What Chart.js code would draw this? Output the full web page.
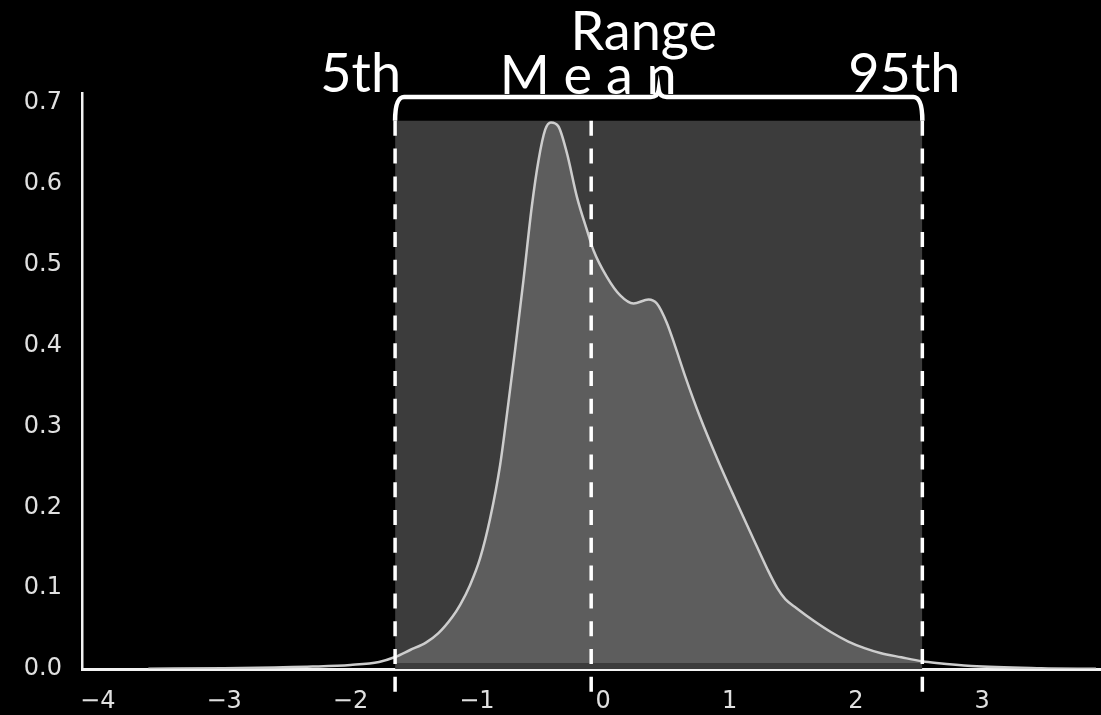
<!DOCTYPE html>
<html>
<head>
<meta charset="utf-8">
<script src="https://cdn.jsdelivr.net/npm/chart.js@4.4.0/dist/chart.umd.min.js"></script>
<style>
  html, body { margin: 0; padding: 0; background: #000; }
  #wrap { width: 1101px; height: 715px; position: relative; }
</style>
</head>
<body>
<div id="wrap"><canvas id="mycanvas"></canvas></div>
<script>
// density curve
var kdeX = [-3.6, -3.0, -2.6, -2.3, -2.0, -1.774, -1.647, -1.528, -1.40, -1.306, -1.196, -1.132,
            -1.053, -0.974, -0.895, -0.816, -0.752, -0.697, -0.631, -0.565, -0.512, -0.459,
            -0.414, -0.354, -0.287, -0.208, -0.129, -0.077, 0.029, 0.135, 0.240, 0.359, 0.425,
            0.504, 0.570, 0.649, 0.768, 0.911, 1.045, 1.180, 1.298, 1.378, 1.441, 1.528, 1.663,
            1.805, 1.940, 2.074, 2.193, 2.359, 2.526, 2.637, 2.914, 3.468, 3.9];
var kdeY = [0.0003, 0.001, 0.002, 0.003, 0.005, 0.0087, 0.0148, 0.0235, 0.033, 0.044, 0.064, 0.0794,
            0.104, 0.137, 0.186, 0.252, 0.327, 0.395, 0.481, 0.572, 0.629, 0.667,
            0.676, 0.671, 0.638, 0.584, 0.543, 0.518, 0.485, 0.462, 0.452, 0.457, 0.452,
            0.428, 0.399, 0.362, 0.311, 0.257, 0.210, 0.164, 0.124, 0.100, 0.0865, 0.0755, 0.060,
            0.0455, 0.034, 0.0255, 0.0198, 0.0145, 0.0095, 0.0074, 0.0037, 0.001, 0.0002];

var p5 = -1.647;
var meanVal = -0.095;
var p95 = 2.526;
var rangeTop = 0.678;     // top of the shaded 5th-95th band
var bracketLevel = 0.7074;
var fillBase = 0.0075;
var lineBottom = -0.032;

var xTicks = [-4, -3, -2, -1, 0, 1, 2, 3];
var yTicks = [0, 0.1, 0.2, 0.3, 0.4, 0.5, 0.6, 0.7];
var xMin = -4.125, xMax = 3.94;
var yMin = 0, yMax = 0.7124;

var curve = [];
var inside = [];
for (var i in kdeX) {
    curve.push({x: kdeX[i], y: kdeY[i]});
    if (kdeX[i] >= p5 && kdeX[i] <= p95) {
        inside.push({x: kdeX[i], y: kdeY[i]});
    }
}

function vline(v) {
    return {
        data: [{x: v, y: rangeTop}, {x: v, y: lineBottom}],
        borderColor: '#ffffff',
        borderWidth: 3.5,
        borderDash: [15, 12.8],
        pointRadius: 0,
        fill: false,
        clip: false,
        order: 0
    };
}

var bracketPlugin = {
    id: 'bracket',
    afterDatasetsDraw: function (chart) {
        var c = chart.ctx;
        var xs = chart.scales.x, ys = chart.scales.y;
        var xl = xs.getPixelForValue(p5);
        var xr = xs.getPixelForValue(p95);
        var xm = xs.getPixelForValue(meanVal);
        var xc = (xl + xr) / 2;
        var yb = ys.getPixelForValue(bracketLevel);
        var yt = ys.getPixelForValue(rangeTop);
        var top = chart.chartArea.top;

        c.save();
        c.strokeStyle = '#ffffff';
        c.lineWidth = 4.5;
        c.lineCap = 'butt';
        c.beginPath();
        c.moveTo(xl, yt);
        c.quadraticCurveTo(xl, yb, xl + 9, yb);
        c.lineTo(xc - 8, yb);
        c.quadraticCurveTo(xc - 1, yb, xc, yb - 7);
        c.quadraticCurveTo(xc + 1, yb, xc + 8, yb);
        c.lineTo(xr - 9, yb);
        c.quadraticCurveTo(xr, yb, xr, yt);
        c.stroke();

        c.fillStyle = '#ffffff';
        c.textBaseline = 'alphabetic';
        c.font = '54px Lato';
        c.textAlign = 'center';
        c.fillText('Range', xc - 15, top - 43);
        c.textAlign = 'right';
        c.fillText('5th', xl + 6, top - 1);
        c.textAlign = 'center';
        c.fillText('95th', xr - 18, top - 1);
        c.fillText('M e a n', xm - 3, top + 1);
        c.restore();
    }
};

var chartdata = {
    datasets: [
        vline(p5),
        vline(meanVal),
        vline(p95),
        {
            data: curve,
            borderColor: '#cdcdcd',
            borderWidth: 2.5,
            pointRadius: 0,
            cubicInterpolationMode: 'monotone',
            fill: false,
            order: 1
        },
        {
            data: inside,
            borderWidth: 0,
            borderColor: 'rgba(0,0,0,0)',
            backgroundColor: '#5d5d5d',
            pointRadius: 0,
            cubicInterpolationMode: 'monotone',
            fill: {value: fillBase},
            order: 2
        },
        {
            data: [{x: p5, y: rangeTop}, {x: p95, y: rangeTop}],
            borderWidth: 0,
            borderColor: 'rgba(0,0,0,0)',
            backgroundColor: '#3c3c3c',
            pointRadius: 0,
            fill: 'origin',
            order: 3
        }
    ]
};

var ctx = document.getElementById('mycanvas');
var chart = new Chart(ctx, {
    type: 'line',
    data: chartdata,
    plugins: [bracketPlugin],
    options: {
        responsive: true,
        maintainAspectRatio: false,
        animation: false,
        layout: {padding: {top: 93, left: 0, right: 0, bottom: 0}},
        plugins: {legend: {display: false}, tooltip: {enabled: false}},
        scales: {
            x: {
                type: 'linear',
                min: xMin,
                max: xMax,
                afterBuildTicks: function (axis) {
                    axis.ticks = xTicks.map(function (v) { return {value: v}; });
                },
                afterFit: function (axis) { axis.height = 46; },
                grid: {display: false, drawTicks: false},
                border: {display: true, color: '#f2f2f2', width: 3},
                ticks: {
                    color: '#e0e0e0',
                    padding: 18,
                    maxRotation: 0,
                    autoSkip: false,
                    font: {family: 'DejaVu Sans', size: 24},
                    callback: function (v) { return v < 0 ? '\u2212' + Math.abs(v) : String(v); }
                }
            },
            y: {
                type: 'linear',
                min: yMin,
                max: yMax,
                afterBuildTicks: function (axis) {
                    axis.ticks = yTicks.map(function (v) { return {value: v}; });
                },
                afterFit: function (axis) { axis.width = 82; },
                grid: {display: false, drawTicks: false},
                border: {display: true, color: '#f2f2f2', width: 2.5},
                ticks: {
                    color: '#e0e0e0',
                    padding: 20,
                    font: {family: 'DejaVu Sans', size: 24},
                    callback: function (v) { return v.toFixed(1); }
                }
            }
        }
    }
});
</script>
</body>
</html>
